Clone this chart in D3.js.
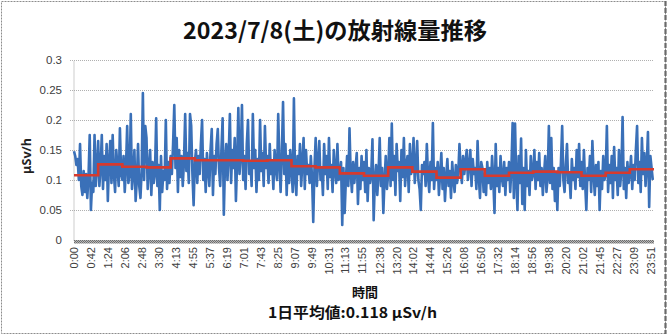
<!DOCTYPE html>
<html>
<head>
<meta charset="utf-8">
<script src="https://cdn.jsdelivr.net/npm/d3@7"></script>
<style>
  html, body { margin: 0; padding: 0; background: #fff; }
  svg { display: block; }
</style>
</head>
<body>
<script>
// ---- data ----
const chartTitle = "2023/7/8(土)の放射線量推移";
const yAxisTitle = "μSv/h";
const xAxisTitle = "時間";
const dailyNote = "1日平均値:0.118 μSv/h";

const sampleMinutes = 3; // one reading every 3 minutes (20 per hour)

// dose rate readings (μSv/h), one row per hour
const doseValues = [
  0.148,0.140,0.125,0.135,0.100,0.160,0.090,0.075,0.115,0.080,0.110,0.070,0.105,0.175,0.050,0.095,0.080,0.175,0.090,0.120,
  0.165,0.090,0.120,0.175,0.085,0.140,0.100,0.160,0.065,0.130,0.165,0.095,0.175,0.110,0.080,0.150,0.120,0.090,0.186,0.110,
  0.100,0.140,0.080,0.120,0.190,0.095,0.110,0.210,0.085,0.110,0.150,0.065,0.100,0.160,0.090,0.070,0.115,0.245,0.100,0.190,
  0.170,0.085,0.120,0.150,0.075,0.130,0.095,0.110,0.203,0.090,0.125,0.050,0.140,0.080,0.115,0.100,0.200,0.085,0.130,0.095,
  0.140,0.110,0.160,0.225,0.120,0.170,0.080,0.150,0.105,0.140,0.090,0.130,0.210,0.115,0.145,0.095,0.210,0.190,0.110,0.058,
  0.130,0.150,0.095,0.140,0.110,0.160,0.200,0.100,0.135,0.080,0.145,0.120,0.090,0.150,0.185,0.075,0.140,0.110,0.160,0.185,
  0.120,0.090,0.150,0.203,0.042,0.130,0.160,0.100,0.140,0.210,0.095,0.150,0.120,0.170,0.065,0.130,0.220,0.110,0.140,0.225,
  0.100,0.140,0.085,0.160,0.200,0.110,0.130,0.090,0.210,0.120,0.150,0.080,0.135,0.100,0.200,0.115,0.145,0.090,0.190,0.120,
  0.140,0.095,0.160,0.110,0.130,0.085,0.150,0.120,0.100,0.210,0.130,0.080,0.145,0.230,0.110,0.160,0.075,0.140,0.095,0.150,
  0.120,0.080,0.236,0.100,0.075,0.140,0.110,0.160,0.090,0.130,0.170,0.085,0.150,0.110,0.125,0.095,0.140,0.105,0.030,0.120,
  0.170,0.090,0.130,0.165,0.100,0.120,0.075,0.160,0.110,0.140,0.085,0.170,0.105,0.125,0.080,0.150,0.115,0.095,0.160,0.100,
  0.110,0.130,0.025,0.120,0.045,0.100,0.140,0.090,0.186,0.110,0.080,0.130,0.095,0.120,0.145,0.060,0.120,0.085,0.140,0.100,
  0.130,0.080,0.150,0.065,0.120,0.095,0.110,0.168,0.033,0.100,0.125,0.075,0.110,0.170,0.090,0.120,0.045,0.100,0.140,0.085,
  0.110,0.170,0.090,0.194,0.100,0.140,0.075,0.160,0.115,0.130,0.065,0.150,0.105,0.170,0.090,0.125,0.140,0.080,0.160,0.110,
  0.120,0.170,0.095,0.120,0.165,0.100,0.085,0.050,0.125,0.110,0.130,0.090,0.160,0.105,0.080,0.130,0.100,0.195,0.085,0.120,
  0.100,0.130,0.075,0.110,0.145,0.085,0.120,0.065,0.105,0.135,0.090,0.115,0.070,0.130,0.100,0.080,0.125,0.095,0.110,0.160,
  0.120,0.095,0.140,0.110,0.130,0.150,0.100,0.125,0.150,0.090,0.135,0.110,0.120,0.085,0.165,0.105,0.070,0.130,0.120,0.080,
  0.110,0.075,0.130,0.095,0.120,0.085,0.140,0.100,0.045,0.160,0.090,0.120,0.080,0.140,0.105,0.090,0.130,0.075,0.120,0.100,
  0.130,0.080,0.120,0.195,0.070,0.194,0.100,0.050,0.140,0.095,0.169,0.060,0.120,0.050,0.150,0.090,0.115,0.075,0.140,0.100,
  0.110,0.150,0.085,0.130,0.100,0.145,0.090,0.120,0.075,0.110,0.140,0.080,0.105,0.190,0.095,0.170,0.085,0.120,0.065,0.110,
  0.050,0.120,0.090,0.130,0.190,0.100,0.080,0.125,0.160,0.095,0.110,0.070,0.135,0.100,0.120,0.085,0.150,0.105,0.160,0.090,
  0.130,0.085,0.150,0.095,0.050,0.120,0.100,0.140,0.080,0.165,0.110,0.075,0.125,0.090,0.130,0.050,0.115,0.085,0.140,0.100,
  0.110,0.190,0.080,0.125,0.095,0.140,0.070,0.155,0.100,0.120,0.075,0.150,0.090,0.115,0.205,0.085,0.120,0.070,0.130,0.095,
  0.110,0.140,0.085,0.125,0.100,0.150,0.190,0.095,0.130,0.080,0.170,0.110,0.145,0.090,0.125,0.180,0.055,0.140,0.120,0.100
];

// hourly averages (red step line), μSv/h
const hourlyMeans = [
  0.108,0.126,0.122,0.121,0.136,0.133,0.133,0.132,0.133,0.123,0.121,0.111,
  0.107,0.121,0.114,0.104,0.118,0.107,0.112,0.114,0.113,0.107,0.112,0.118
];

const xTickLabels = ["0:00","0:42","1:24","2:06","2:48","3:30","4:13","4:55","5:37","6:19","7:01","7:43",
  "8:25","9:07","9:49","10:31","11:13","11:55","12:38","13:20","14:02","14:44","15:26","16:08","16:50",
  "17:32","18:14","18:56","19:38","20:20","21:02","21:45","22:27","23:09","23:51"];

const yTickValues = [0, 0.05, 0.1, 0.15, 0.2, 0.25, 0.3];

// ---- drawing ----
const W = 670, H = 336;
const plot = { left: 74, right: 654, top: 60, bottom: 240 };

const svg = d3.select("body").append("svg").attr("width", W).attr("height", H);

const defs = svg.append("defs");
const pat = defs.append("pattern").attr("id", "hatch").attr("width", 2).attr("height", 2)
  .attr("patternUnits", "userSpaceOnUse");
pat.append("rect").attr("width", 2).attr("height", 2).attr("fill", "#b8b8b8");
pat.append("rect").attr("width", 1).attr("height", 1).attr("fill", "#6e6e6e");
pat.append("rect").attr("x", 1).attr("y", 1).attr("width", 1).attr("height", 1).attr("fill", "#6e6e6e");

// outer border
svg.append("rect").attr("x", 1.5).attr("y", 1.5).attr("width", 664).attr("height", 332)
  .attr("fill", "#fff").attr("stroke", "#8c8c8c").attr("stroke-width", 1).attr("stroke-dasharray", "2,1");
svg.append("line").attr("x1", 665.5).attr("x2", 665.5).attr("y1", 1).attr("y2", 334)
  .attr("stroke", "#6a6a6a").attr("stroke-width", 2.2).attr("stroke-dasharray", "5,2");

const x = d3.scaleLinear().domain([0, 1440]).range([plot.left, plot.right]);
const y = d3.scaleLinear().domain([0, 0.3]).range([plot.bottom, plot.top]);

// gridlines
svg.append("g").selectAll("line").data(yTickValues.filter(v => v > 0)).join("line")
  .attr("x1", plot.left - 4).attr("x2", plot.right)
  .attr("y1", d => Math.round(y(d)) + 0.5).attr("y2", d => Math.round(y(d)) + 0.5)
  .attr("stroke", "#b0b0b0").attr("stroke-width", 1).attr("stroke-dasharray", "1,1");

// y axis
const yAxis = svg.append("g").attr("transform", `translate(${plot.left - 0.5},0)`)
  .call(d3.axisLeft(y).tickValues(yTickValues).tickFormat(d => String(d)).tickSize(0).tickPadding(11.5));
yAxis.select(".domain").attr("stroke", "#9a9a9a").attr("stroke-dasharray", "1,1");
yAxis.selectAll("text").attr("font-family", "Liberation Sans, Arial, sans-serif")
  .attr("font-size", 11.5).attr("fill", "#404040");

// x axis band
svg.append("rect").attr("x", plot.left).attr("y", plot.bottom).attr("width", plot.right - plot.left)
  .attr("height", 3.5).attr("fill", "url(#hatch)");

// x axis labels
const tickMinutes = xTickLabels.map(s => { const [h, m] = s.split(":").map(Number); return h * 60 + m; });
const xAxis = svg.append("g").attr("transform", `translate(0,${plot.bottom})`)
  .call(d3.axisBottom(x).tickValues(tickMinutes).tickFormat((d, i) => xTickLabels[i]).tickSize(0));
xAxis.select(".domain").remove();
xAxis.selectAll("text")
  .attr("transform", "rotate(-90)")
  .attr("x", -7).attr("y", 0).attr("dy", "0.35em")
  .attr("text-anchor", "end")
  .attr("font-family", "Liberation Sans, Arial, sans-serif")
  .attr("font-size", 11).attr("fill", "#404040");

// blue series
const blueLine = d3.line().x((d, i) => x(i * sampleMinutes)).y(d => y(d));
svg.append("path").datum(doseValues).attr("d", blueLine)
  .attr("fill", "none").attr("stroke", "#3a70b8").attr("stroke-width", 2.6).attr("stroke-linejoin", "round");

// red step line (hourly means)
const redPts = hourlyMeans.map((v, h) => [h * 60, v]).concat([[1440, hourlyMeans[hourlyMeans.length - 1]]]);
const redLine = d3.line().x(d => x(d[0])).y(d => y(d[1])).curve(d3.curveStepAfter);
svg.append("path").datum(redPts).attr("d", redLine)
  .attr("fill", "none").attr("stroke", "#d63a2e").attr("stroke-width", 2.6);

// titles
svg.append("text").attr("x", 335).attr("y", 39).attr("text-anchor", "middle")
  .attr("font-family", "Noto Sans CJK JP, sans-serif").attr("font-weight", "bold")
  .attr("font-size", 23).attr("textLength", 304).attr("lengthAdjust", "spacingAndGlyphs")
  .attr("fill", "#111").text(chartTitle);

svg.append("text").attr("transform", "translate(31,156) rotate(-90)").attr("text-anchor", "middle")
  .attr("font-family", "Noto Sans, sans-serif").attr("font-weight", "bold")
  .attr("font-size", 12.5).attr("fill", "#222").text(yAxisTitle);

svg.append("text").attr("x", 365).attr("y", 297).attr("text-anchor", "middle")
  .attr("font-family", "Noto Sans CJK JP, sans-serif").attr("font-weight", "bold")
  .attr("font-size", 13).attr("fill", "#111").text(xAxisTitle);

svg.append("text").attr("x", 352.5).attr("y", 318).attr("text-anchor", "middle")
  .attr("font-family", "Noto Sans CJK JP, sans-serif").attr("font-weight", "bold")
  .attr("font-size", 14.5).attr("textLength", 169).attr("lengthAdjust", "spacingAndGlyphs")
  .attr("fill", "#111").text(dailyNote);
</script>
</body>
</html>
